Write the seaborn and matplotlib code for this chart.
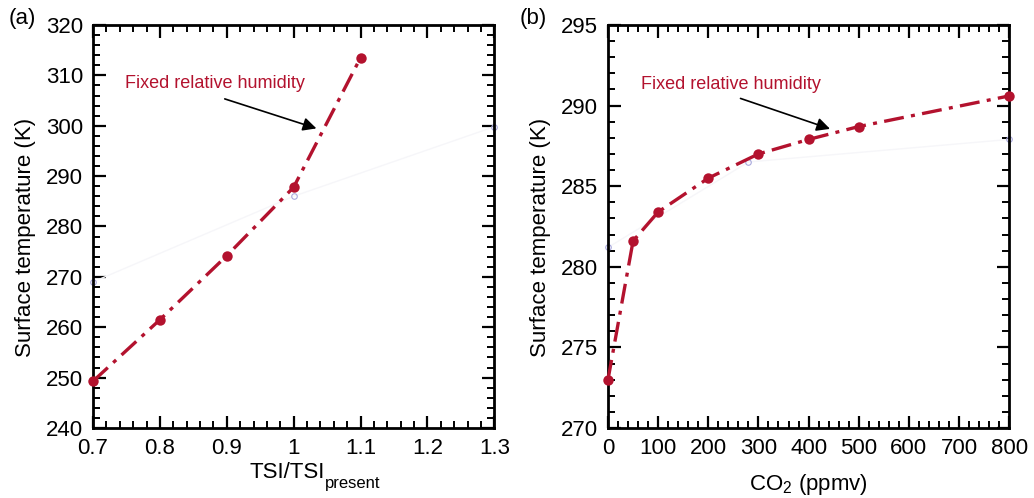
import numpy as np
import pandas as pd
import matplotlib
matplotlib.use("Agg")
import matplotlib.pyplot as plt
from matplotlib.ticker import MultipleLocator
import seaborn as sb

# panel (a): surface temperature vs solar irradiance
tsi = [0.7, 0.8, 0.9, 1.0, 1.1]
ts_tsi = [249.3, 261.5, 274.2, 287.8, 313.5]
# faint (almost erased) second curve in the original
tsi_faint = [0.7, 1.0, 1.3]
ts_tsi_faint = [269.0, 286.0, 299.8]

# panel (b): surface temperature vs CO2
co2 = [0, 50, 100, 200, 300, 400, 500, 800]
ts_co2 = [273.0, 281.6, 283.4, 285.5, 287.0, 287.9, 288.7, 290.6]
co2_faint = [0, 280, 800]
ts_co2_faint = [281.2, 286.5, 287.9]

red = "#b3122e"
faint = "#f6f6f9"

sb.set_style("ticks", {'axes.edgecolor': 'black', 'text.color': 'black',
                       'xtick.color': 'black', 'ytick.color': 'black',
                       'axes.labelcolor': 'black'})
plt.rcParams['font.family'] = ['Liberation Sans', 'DejaVu Sans']
plt.rcParams['mathtext.default'] = 'regular'

fig = plt.figure(figsize=(10.34, 4.98), dpi=100)
ax_a = fig.add_axes([0.090, 0.1406, 0.388, 0.8092])
ax_b = fig.add_axes([0.588, 0.1406, 0.388, 0.8092])

df_a = pd.DataFrame({'x': tsi, 'T': ts_tsi})
df_b = pd.DataFrame({'x': co2, 'T': ts_co2})

for ax, df, xf, yf in [(ax_a, df_a, tsi_faint, ts_tsi_faint),
                       (ax_b, df_b, co2_faint, ts_co2_faint)]:
  ax.plot(xf, yf, color=faint, lw=1.0, zorder=1)
  ax.plot(xf, yf, ls='none', marker='o', ms=4, mfc='none',
          mec='#a8a8dc', mew=0.8, zorder=1, clip_on=False)
  sb.lineplot(data=df, x='x', y='T', ax=ax, color=red, lw=2.4,
              marker='o', markersize=7.5, markeredgewidth=0,
              zorder=3, clip_on=False)
  ax.lines[-1].set_dashes([6, 2.2, 1.2, 2.2])
  ax.tick_params(which='both', direction='in', top=True, right=True,
                 labelsize=16, width=1.6, pad=7)
  ax.tick_params(which='major', length=9)
  ax.tick_params(which='minor', length=5, width=1.4)
  for s in ax.spines.values():
    s.set_linewidth(2.0)
  ax.set_ylabel("Surface temperature (K)", fontsize=16)
  ax.yaxis.set_label_coords(-0.142, 0.474)

ax_a.set_xlim(0.7, 1.3)
ax_a.set_ylim(240, 320)
ax_a.xaxis.set_major_locator(MultipleLocator(0.1))
ax_a.xaxis.set_minor_locator(MultipleLocator(0.02))
ax_a.yaxis.set_major_locator(MultipleLocator(10))
ax_a.yaxis.set_minor_locator(MultipleLocator(2))
ax_a.set_xticks([0.7, 0.8, 0.9, 1.0, 1.1, 1.2, 1.3],
                ["0.7", "0.8", "0.9", "1", "1.1", "1.2", "1.3"])
ax_a.set_xlabel("TSI/TSI", fontsize=16, labelpad=2)
ax_a.xaxis.set_label_coords(0.484, -0.085)
fig.text(0.3145, 0.02, "present", fontsize=12, va='baseline')

ax_b.set_xlim(0, 800)
ax_b.set_ylim(270, 295)
ax_b.xaxis.set_major_locator(MultipleLocator(100))
ax_b.xaxis.set_minor_locator(MultipleLocator(20))
ax_b.yaxis.set_major_locator(MultipleLocator(5))
ax_b.yaxis.set_minor_locator(MultipleLocator(1))
ax_b.set_xlabel(r"CO$_2$ (ppmv)", fontsize=16)
ax_b.xaxis.set_label_coords(0.5, -0.11)
ax_b.xaxis.label.set_va('top')

# annotations
ax_a.text(0.748, 308.3, "Fixed relative humidity", color=red,
          fontsize=13, va='center')
ax_a.annotate("", xy=(1.038, 299.3), xytext=(0.893, 305.5),
              arrowprops=dict(arrowstyle='-|>', color='black', lw=1.2,
                              mutation_scale=20))
ax_b.text(66, 291.3, "Fixed relative humidity", color=red,
          fontsize=13, va='center')
ax_b.annotate("", xy=(448, 288.5), xytext=(259, 290.5),
              arrowprops=dict(arrowstyle='-|>', color='black', lw=1.2,
                              mutation_scale=20))

fig.text(0.008, 0.962, "(a)", fontsize=16, va='center')
fig.text(0.503, 0.962, "(b)", fontsize=16, va='center')

fig.savefig("out.png", dpi=100)
